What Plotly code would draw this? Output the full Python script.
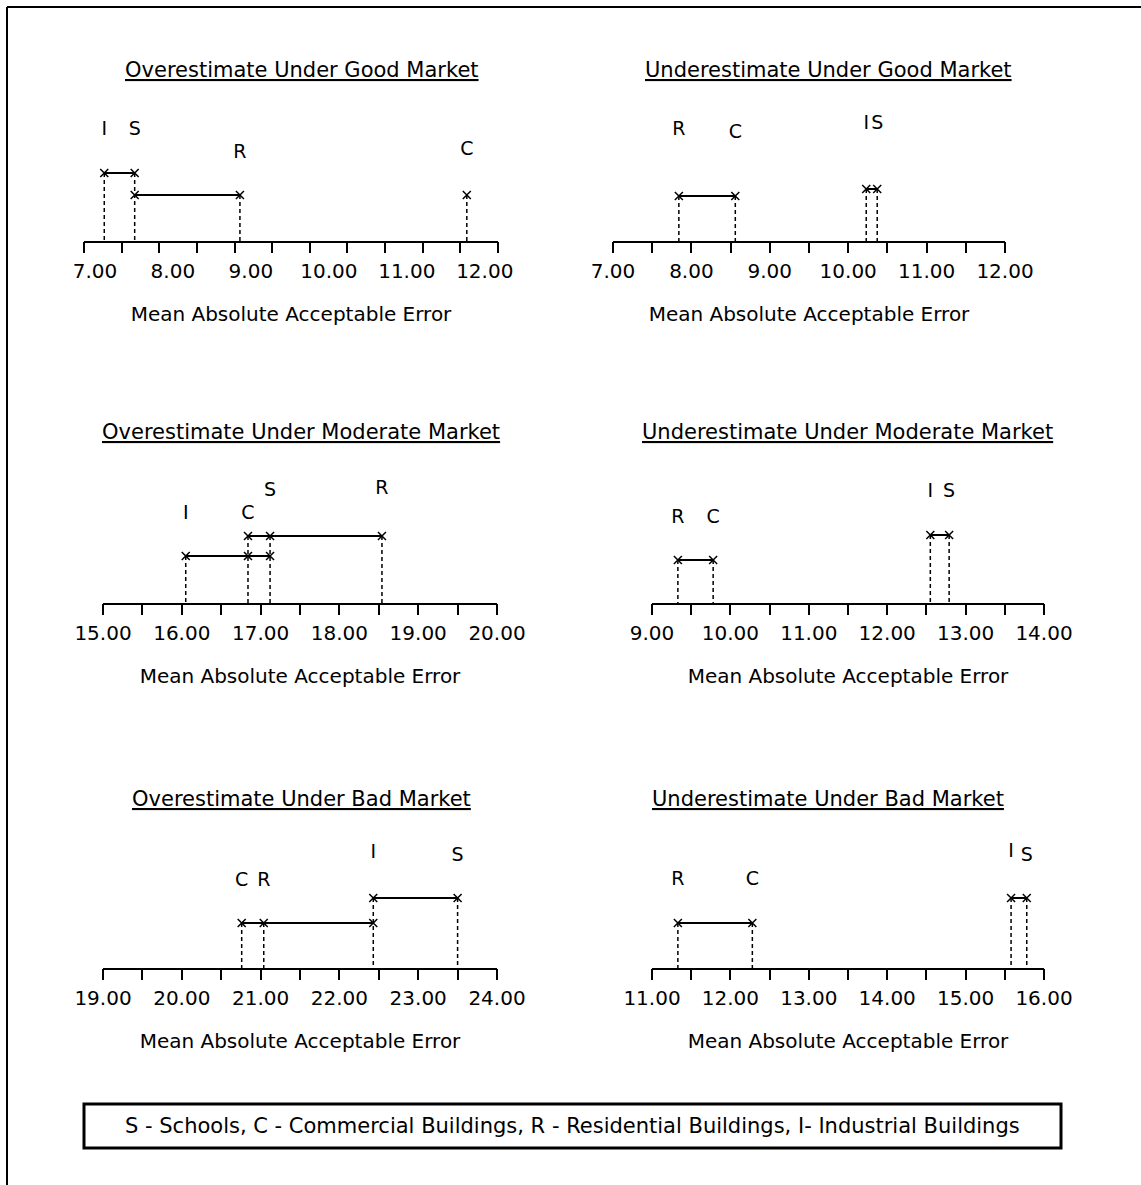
import numpy as np
import plotly.graph_objects as go

W, H = 1141, 1185
FONT = "DejaVu Sans"

# ---------------------------------------------------------------- data
categories = ["S", "C", "R", "I"]

panel_titles = [
    "Overestimate Under Good Market",
    "Underestimate Under Good Market",
    "Overestimate Under Moderate Market",
    "Underestimate Under Moderate Market",
    "Overestimate Under Bad Market",
    "Underestimate Under Bad Market",
]
axis_title = "Mean Absolute Acceptable Error"
legend_text = ("S - Schools, C - Commercial Buildings, "
               "R - Residential Buildings, I- Industrial Buildings")

# tick values per panel
ticks_over_good = [7, 8, 9, 10, 11, 12]
ticks_under_good = [7, 8, 9, 10, 11, 12]
ticks_over_moderate = [15, 16, 17, 18, 19, 20]
ticks_under_moderate = [9, 10, 11, 12, 13, 14]
ticks_over_bad = [19, 20, 21, 22, 23, 24]
ticks_under_bad = [11, 12, 13, 14, 15, 16]

# mean absolute acceptable error, in the order S, C, R, I
over_good = [7.51, 11.77, 8.86, 7.12]
under_good = [10.37, 8.56, 7.84, 10.23]
over_moderate = [17.12, 16.84, 18.54, 16.05]
under_moderate = [12.79, 9.78, 9.33, 12.55]
over_bad = [23.50, 20.76, 21.04, 22.43]
under_bad = [15.78, 12.28, 11.33, 15.58]

# groups of building types whose means do not differ significantly
groups_over_good = [["I", "S"], ["S", "R"], ["C"]]
groups_under_good = [["R", "C"], ["I", "S"]]
groups_over_moderate = [["C", "S", "R"], ["I", "C", "S"]]
groups_under_moderate = [["R", "C"], ["I", "S"]]
groups_over_bad = [["I", "S"], ["C", "R", "I"]]
groups_under_bad = [["R", "C"], ["I", "S"]]

panel_values = [over_good, under_good, over_moderate,
                under_moderate, over_bad, under_bad]
panel_ticks = [ticks_over_good, ticks_under_good, ticks_over_moderate,
               ticks_under_moderate, ticks_over_bad, ticks_under_bad]
panel_groups = [groups_over_good, groups_under_good, groups_over_moderate,
                groups_under_moderate, groups_over_bad, groups_under_bad]

# ---------------------------------------------------------------- layout (pixels)
# axis line ends, baseline, title centre, axis range, number of tick marks
panel_boxes = [
    dict(left=84, right=498, base=241, tx=302, ty=70, rng=(6.86, 12.17), nticks=12),
    dict(left=613, right=1005, base=241, tx=828, ty=70, rng=(7, 12), nticks=11),
    dict(left=103, right=497, base=603, tx=301, ty=432, rng=(15, 20), nticks=11),
    dict(left=652, right=1044, base=603, tx=847, ty=432, rng=(9, 14), nticks=11),
    dict(left=103, right=497, base=968, tx=301, ty=799, rng=(19, 24), nticks=11),
    dict(left=652, right=1044, base=968, tx=828, ty=799, rng=(11, 16), nticks=11),
]
# height above the axis of each group bar
group_heights = [[68, 46, 46], [45, 52], [67, 47], [43, 68], [70, 45], [45, 70]]
# height above the axis of each letter (S, C, R, I)
letter_heights = [
    [111, 91, 88, 111],
    [117, 108, 111, 117],
    [112, 89, 114, 89],
    [111, 85, 85, 111],
    [112, 87, 87, 115],
    [112, 88, 88, 116],
]
PANEL_H = 135


def px(x):
    return x / W


def py(y):
    return 1 - y / H


fig = go.Figure()
layout = {}
annotations = []

for k, (box, vals, tvals, groups, gh, lh, title) in enumerate(
        zip(panel_boxes, panel_values, panel_ticks, panel_groups,
            group_heights, letter_heights, panel_titles), start=1):
    xa = "x" if k == 1 else f"x{k}"
    xt = f"x{k + 6}"          # companion axis carrying the tick marks
    ya = "y" if k == 1 else f"y{k}"
    val = dict(zip(categories, vals))

    # highest bar each category sits on
    top = {c: 0 for c in categories}
    for g, h in zip(groups, gh):
        for c in g:
            top[c] = max(top[c], h)

    # dashed drop lines to the axis
    dx, dy = [], []
    for c in categories:
        dx += [val[c], val[c], None]
        dy += [top[c], 0, None]
    fig.add_trace(go.Scatter(x=dx, y=dy, mode="lines", xaxis=xt, yaxis=ya,
                             line=dict(color="black", width=1.5, dash="4px,3px"),
                             hoverinfo="skip", cliponaxis=False, showlegend=False))

    # group bars
    lx, ly = [], []
    for g, h in zip(groups, gh):
        xs = [val[c] for c in g]
        lx += [min(xs), max(xs), None]
        ly += [h, h, None]
    fig.add_trace(go.Scatter(x=lx, y=ly, mode="lines", xaxis=xa, yaxis=ya,
                             line=dict(color="black", width=2),
                             hoverinfo="skip", cliponaxis=False, showlegend=False))

    # point markers
    mx, my = [], []
    for g, h in zip(groups, gh):
        for c in g:
            mx.append(val[c])
            my.append(h)
    fig.add_trace(go.Scatter(x=mx, y=my, mode="markers", xaxis=xa, yaxis=ya,
                             marker=dict(symbol="x-thin-open", size=8, color="black",
                                         line=dict(color="black", width=1.5)),
                             cliponaxis=False, showlegend=False))

    # category letters
    fig.add_trace(go.Scatter(x=vals, y=lh, mode="text", text=categories,
                             xaxis=xa, yaxis=ya, textposition="middle center",
                             textfont=dict(family=FONT, size=19, color="black"),
                             cliponaxis=False, showlegend=False))

    key = "" if k == 1 else str(k)
    lo, hi = box["rng"]
    layout[f"xaxis{key}"] = dict(
        domain=[px(box["left"]), px(box["right"])], range=[lo, hi],
        anchor=ya, tickvals=tvals, ticktext=[f"{t:.2f}" for t in tvals],
        ticks="outside", ticklen=11, tickcolor="rgba(0,0,0,0)",
        showline=True, linecolor="black", linewidth=2,
        showgrid=False, zeroline=False, fixedrange=True,
        tickfont=dict(family=FONT, size=20, color="black"),
        title=dict(text=axis_title, standoff=25,
                   font=dict(family=FONT, size=20, color="black")),
    )
    layout[f"yaxis{key}"] = dict(
        domain=[py(box["base"]), py(box["base"] - PANEL_H)],
        range=[0, PANEL_H], visible=False, fixedrange=True,
    )
    layout[f"xaxis{k + 6}"] = dict(
        overlaying=xa, anchor=ya, side="bottom", range=[lo, hi],
        tickvals=list(np.linspace(lo, hi, box["nticks"])),
        ticks="outside", ticklen=11, tickwidth=2, tickcolor="black",
        showticklabels=False, showgrid=False, zeroline=False,
        showline=False, fixedrange=True,
    )

    annotations.append(dict(
        text=f"<u>{title}</u>", x=px(box["tx"]), y=py(box["ty"]),
        xref="paper", yref="paper", xanchor="center", yanchor="middle",
        showarrow=False, font=dict(family=FONT, size=21, color="black"),
    ))

annotations.append(dict(
    text=legend_text, x=px(572), y=py(1126), xref="paper", yref="paper",
    xanchor="center", yanchor="middle", showarrow=False,
    font=dict(family=FONT, size=21, color="black"),
))

shapes = [
    # page frame
    dict(type="line", xref="paper", yref="paper", x0=px(7), x1=1,
         y0=py(7), y1=py(7), line=dict(color="black", width=2)),
    dict(type="line", xref="paper", yref="paper", x0=px(7), x1=px(7),
         y0=py(7), y1=0, line=dict(color="black", width=2)),
    # key box
    dict(type="rect", xref="paper", yref="paper", x0=px(84), x1=px(1061),
         y0=py(1148), y1=py(1104), line=dict(color="black", width=3)),
]

fig.update_layout(
    width=W, height=H,
    margin=dict(l=0, r=0, t=0, b=0, pad=0, autoexpand=False),
    paper_bgcolor="white", plot_bgcolor="white",
    showlegend=False, annotations=annotations, shapes=shapes,
    font=dict(family=FONT, color="black"),
    **layout,
)

fig.write_html("out.html")
